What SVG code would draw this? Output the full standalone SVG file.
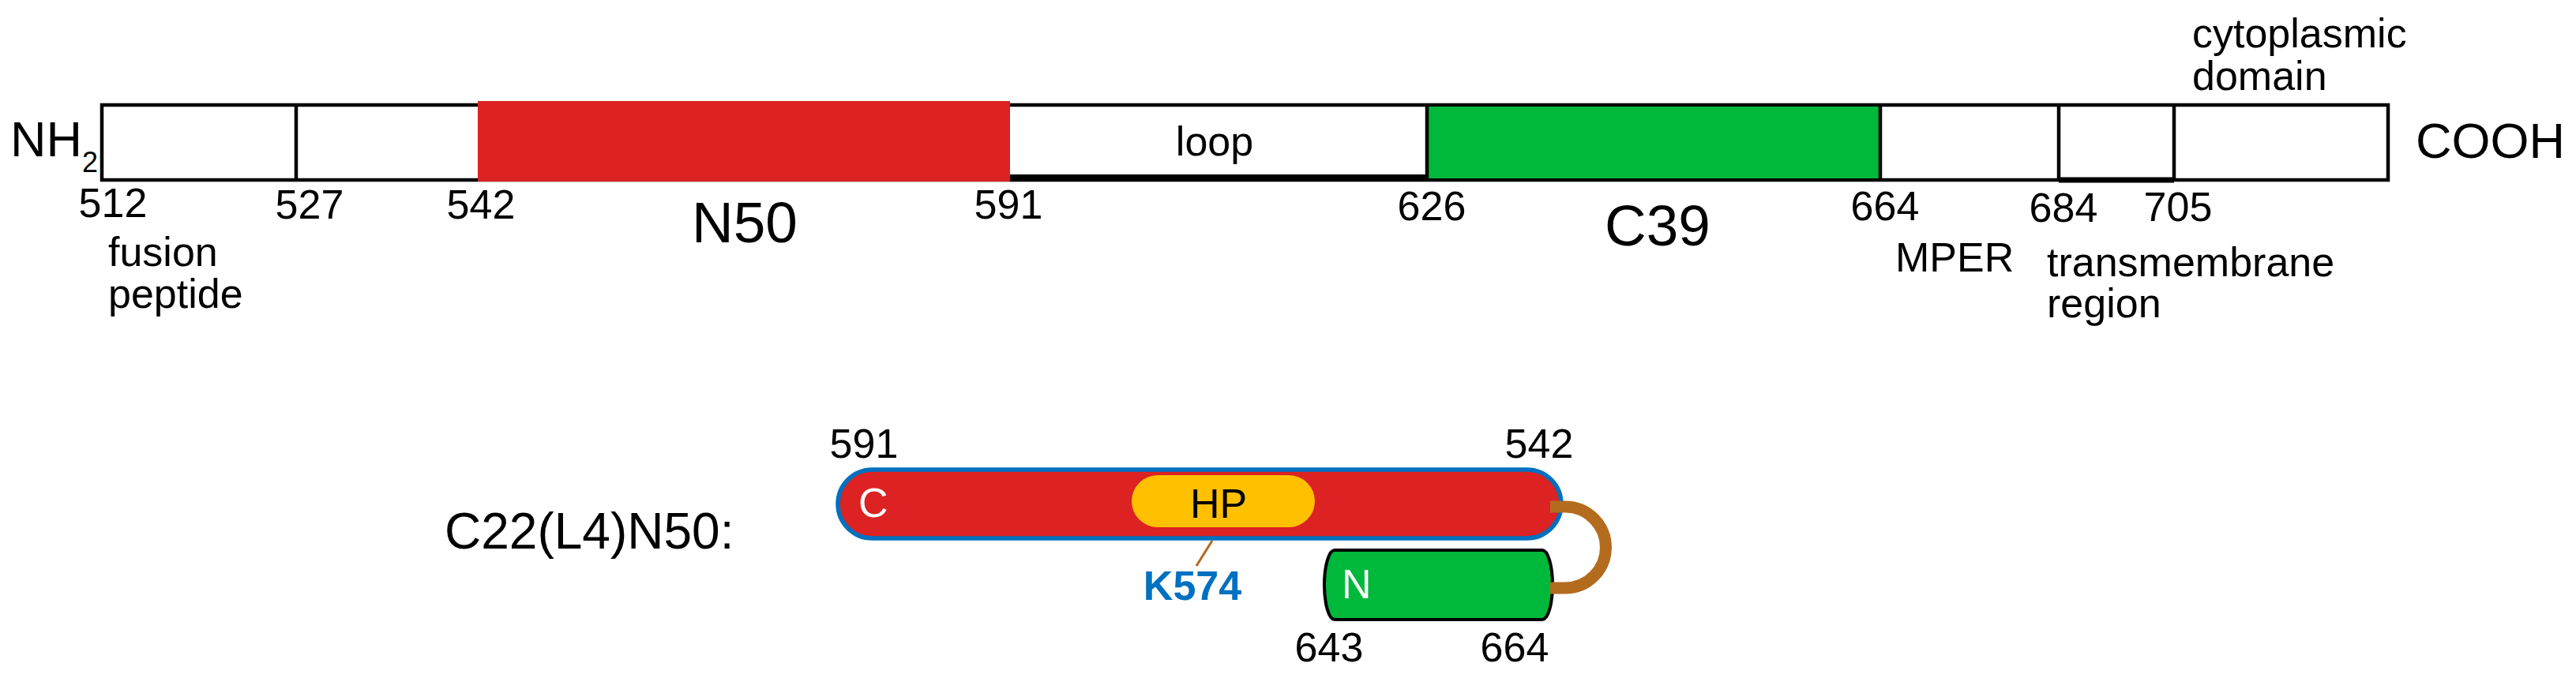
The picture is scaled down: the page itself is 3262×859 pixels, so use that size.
<svg xmlns="http://www.w3.org/2000/svg" width="3262" height="859" viewBox="0 0 3262 859">
<style>
text{font-family:"Liberation Sans",Arial,sans-serif;fill:#000}
.n{font-size:52px;text-anchor:middle}
.l{font-size:52px}
.big{font-size:73px;text-anchor:middle}
.end{font-size:63px}
.w{fill:#fff;font-size:52px}
.k{fill:#0070C0;font-size:52px;font-weight:bold;text-anchor:middle}
.edge{fill:none;stroke:#000;stroke-width:4.5}
</style>
<rect width="3262" height="859" fill="#fff"/>
<g id="gp41-bar">
<rect x="129" y="133" width="2895" height="95" fill="#fff" stroke="#000" stroke-width="4.5"/>
<rect id="C39" x="1807" y="135" width="574" height="91" fill="#00B83A"/>
<rect id="N50" x="605" y="128" width="674" height="102" fill="#DC2222"/>
<line class="edge" x1="375" y1="133" x2="375" y2="228"/>
<line class="edge" x1="1807" y1="133" x2="1807" y2="228"/>
<line class="edge" x1="2381" y1="133" x2="2381" y2="228"/>
<line class="edge" x1="2607" y1="133" x2="2607" y2="228"/>
<line class="edge" x1="2753" y1="133" x2="2753" y2="228"/>
<line x1="1279" y1="225" x2="1807" y2="225" stroke="#000" stroke-width="8"/>
<line x1="2607" y1="228" x2="2753" y2="228" stroke="#000" stroke-width="7"/>
</g>
<g id="bar-labels">
<text class="end" x="13" y="198">NH<tspan font-size="36" dy="20">2</tspan></text>
<text class="end" x="3059" y="200">COOH</text>
<text class="l" x="1538" y="197" text-anchor="middle">loop</text>
<text class="n" x="143" y="275">512</text>
<text class="n" x="392" y="277">527</text>
<text class="n" x="609" y="277">542</text>
<text class="n" x="1277" y="277">591</text>
<text class="n" x="1813" y="279">626</text>
<text class="n" x="2387" y="279">664</text>
<text class="n" x="2613" y="281">684</text>
<text class="n" x="2758" y="280">705</text>
<text class="big" x="943" y="307">N50</text>
<text class="big" x="2099" y="311">C39</text>
<text class="l" x="137" y="337">fusion</text>
<text class="l" x="137" y="390">peptide</text>
<text class="l" x="2400" y="344">MPER</text>
<text class="l" x="2592" y="350">transmembrane</text>
<text class="l" x="2592" y="402">region</text>
<text class="l" x="2776" y="60">cytoplasmic</text>
<text class="l" x="2776" y="114">domain</text>
</g>
<g id="construct">
<text x="563" y="695" font-size="64">C22(L4)N50:</text>
<g id="C-helix">
<rect x="1061" y="595" width="916" height="87" rx="43.5" fill="#DC2222" stroke="#0070C0" stroke-width="5.5"/>
<rect x="1433" y="602" width="232" height="66" rx="33" fill="#FFC000"/>
<text class="w" x="1087" y="655">C</text>
<text class="l" x="1543" y="656" text-anchor="middle">HP</text>
</g>
<g id="N-helix">
<path d="M1690 697 H1953 A13 44 0 0 1 1953 785 H1690 A13 44 0 0 1 1690 697 Z" fill="#00B83A" stroke="#000" stroke-width="4"/>
<text class="w" x="1699" y="758">N</text>
</g>
<g id="connectors">
<path d="M1963 642 H1982 A51.5 51.5 0 0 1 1982 745 H1963" fill="none" stroke="#B36B1E" stroke-width="15"/>
<line x1="1535" y1="685" x2="1515" y2="717" stroke="#B36B1E" stroke-width="3"/>
</g>
<text class="k" x="1510" y="760">K574</text>
<text class="n" x="1094" y="580">591</text>
<text class="n" x="1949" y="580">542</text>
<text class="n" x="1683" y="838">643</text>
<text class="n" x="1918" y="838">664</text>
</g>
</svg>
